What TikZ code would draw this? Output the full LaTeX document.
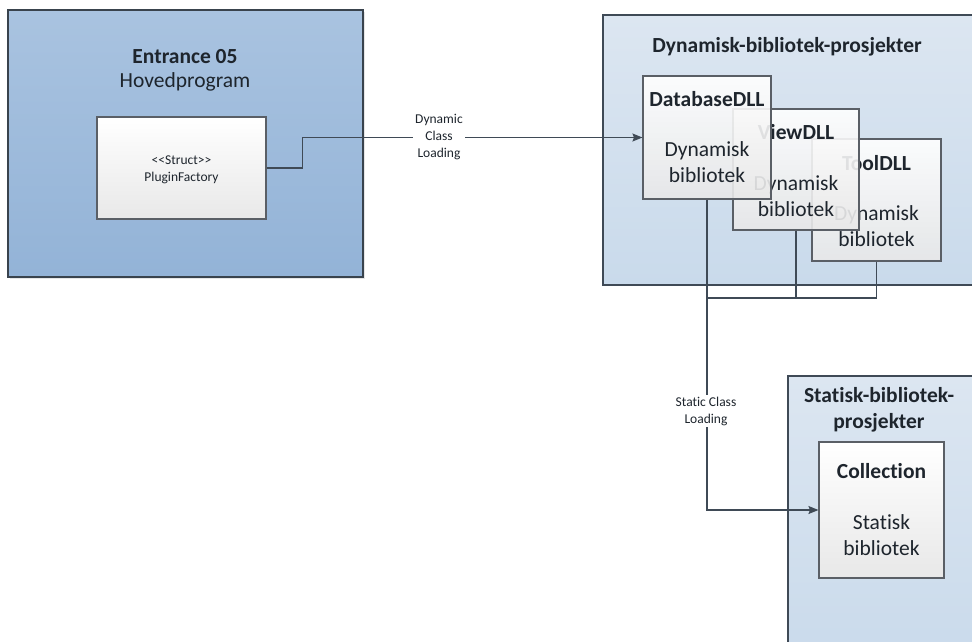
\documentclass[tikz,border=0pt]{standalone}
\usepackage{fontspec}
\setmainfont{Carlito}[Ligatures=NoCommon]
\newfontfamily\plainfont{Carlito}[Ligatures=NoCommon]
\usetikzlibrary{arrows.meta,shadows}

\definecolor{edge}{HTML}{3F4A56}
\definecolor{boxedge}{HTML}{5A5F66}
\definecolor{mainTop}{HTML}{A9C3E0}
\definecolor{mainBot}{HTML}{93B3D7}
\definecolor{pkgTop}{HTML}{DCE6F1}
\definecolor{pkgBot}{HTML}{C9DAEB}
\definecolor{ink}{HTML}{1E252D}

\tikzset{
  package/.style={draw=edge, line width=1.3pt, rectangle, inner sep=0pt,
    top color=pkgTop, bottom color=pkgBot},
  component/.style={draw=boxedge, line width=1.1pt, rectangle, inner sep=0pt,
    top color=white, bottom color=black!9},
  overlapped/.style={component, fill opacity=0.9},
  bigtitle/.style={font=\fontsize{21.5}{26}\selectfont\bfseries, text=ink, align=center, inner sep=0pt},
  bigtext/.style={font=\fontsize{21.5}{26}\selectfont, text=ink, align=center, inner sep=0pt},
  smalltext/.style={font=\plainfont\fontsize{13.5}{17}\selectfont, text=ink, align=center, inner sep=1pt},
  linklabel/.style={smalltext, fill=white, inner sep=2pt},
  conn/.style={draw=edge, line width=1.2pt},
  arrowconn/.style={conn, -{Stealth[length=10pt, width=8pt, inset=1.5pt]}},
}

\begin{document}
\begin{tikzpicture}[x=1pt, y=-1pt]
\useasboundingbox (0,0) rectangle (972,641);
\clip (0,0) rectangle (972,641);

% main program package
\node[draw=edge!90!black, line width=1.8pt, rectangle, inner sep=0pt,
      top color=mainTop, bottom color=mainBot,
      drop shadow={shadow xshift=1.5pt, shadow yshift=-2pt, opacity=0.2},
      minimum width=355pt, minimum height=267pt] (entrance) at (185.5,143.5) {};
\node[bigtitle] (entrTitle) at (185,57) {Entrance 05};
\node[bigtext] (entrSub) at (185,82) {Hovedprogram};
\node[component, minimum width=169pt, minimum height=102pt] (pf) at (181.5,168) {};
\node[smalltext] (pfText) at (181.5,170) {<{}<Struct>{}>\\PluginFactory};

% dynamic library package (runs past the right edge)
\node[package, minimum width=390pt, minimum height=270pt] (dynpkg) at (798,150) {};
\node[bigtitle] (dynTitle) at (787,47) {Dynamisk-bibliotek-prosjekter};

% stacked DLL components, back to front
\node[overlapped, minimum width=129pt, minimum height=122pt] (tool) at (876.5,200) {};
\node[bigtitle] (toolTitle) at (876.5,163) {ToolDLL};
\node[bigtext] (toolText) at (876.5,226) {Dynamisk\\bibliotek};

\node[overlapped, minimum width=126pt, minimum height=121pt] (view) at (796,169.5) {};
\node[bigtitle] (viewTitle) at (796,132) {ViewDLL};
\node[bigtext] (viewText) at (796,196) {Dynamisk\\bibliotek};

\node[overlapped, minimum width=128pt, minimum height=123pt] (db) at (707,137.5) {};
\node[bigtitle] (dbTitle) at (707,99) {DatabaseDLL};
\node[bigtext] (dbText) at (707,162) {Dynamisk\\bibliotek};

% static library package (runs past the right and bottom edges)
\node[package, minimum width=200pt, minimum height=290pt] (statpkg) at (888,521) {};
\node[bigtitle] (statTitle) at (879,410) {Statisk-bibliotek-\\prosjekter};
\node[component, minimum width=125pt, minimum height=136pt] (coll) at (881.5,510) {};
\node[bigtitle] (collTitle) at (881.5,471) {Collection};
\node[bigtext] (collText) at (881.5,535) {Statisk\\bibliotek};

% dynamic loading link
\draw[arrowconn] (pf.east) -- ++(36,0) |- (db.west);
\node[linklabel] (dynLabel) at (439,137) {Dynamic\\Class\\Loading};

% dependency bus below the DLLs and static loading link
\coordinate (bus) at (707,298);
\draw[conn] (tool.south) |- (bus);
\draw[conn] (view.south) -- (view.south |- bus);
\draw[arrowconn] (db.south) |- (coll.west);
\node[linklabel] (statLabel) at (706,411) {Static Class\\Loading};
\end{tikzpicture}
\end{document}
